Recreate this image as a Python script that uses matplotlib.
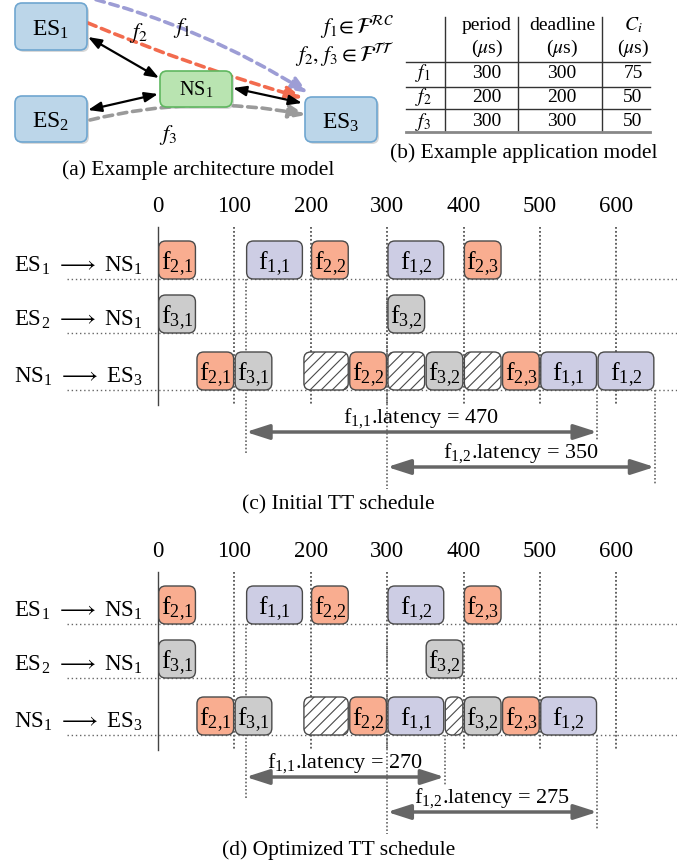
import matplotlib.pyplot as plt
from matplotlib.patches import FancyBboxPatch, FancyArrowPatch

plt.rcParams['font.family'] = ['Liberation Serif', 'DejaVu Serif']
plt.rcParams['mathtext.fontset'] = 'stix'
plt.rcParams['hatch.linewidth'] = 0.8

# (b) application model
flow_names = [r'$f_1$', r'$f_2$', r'$f_3$']
period = [300, 200, 300]
deadline = [300, 200, 300]
wcet = [75, 50, 50]

# (c)/(d) schedules, times in microseconds
ticks = [0, 100, 200, 300, 400, 500, 600]
links = [r'ES$_{\mathregular{1}}$ $\longrightarrow$ NS$_{\mathregular{1}}$',
         r'ES$_{\mathregular{2}}$ $\longrightarrow$ NS$_{\mathregular{1}}$',
         r'NS$_{\mathregular{1}}$ $\longrightarrow$ ES$_{\mathregular{3}}$']

# initial schedule ('' = blocked slot)
init_link = [0, 0, 0, 0, 0, 1, 1, 2, 2, 2, 2, 2, 2, 2, 2, 2, 2]
init_frame = ['2,1', '1,1', '2,2', '1,2', '2,3', '3,1', '3,2',
              '2,1', '3,1', '', '2,2', '', '3,2', '', '2,3', '1,1', '1,2']
init_start = [0, 115, 200, 300, 400, 0, 300, 50, 100, 190, 250, 300, 350, 400, 450, 500, 575]
init_len = [50, 75, 50, 75, 50, 50, 50, 50, 50, 60, 50, 50, 50, 50, 50, 75, 75]
init_lat_frame = ['1,1', '1,2']
init_lat_from = [115, 300]
init_lat_to = [575, 650]
init_lat = [470, 350]

# optimized schedule
opt_link = [0, 0, 0, 0, 0, 1, 1, 2, 2, 2, 2, 2, 2, 2, 2, 2]
opt_frame = ['2,1', '1,1', '2,2', '1,2', '2,3', '3,1', '3,2',
             '2,1', '3,1', '', '2,2', '1,1', '', '3,2', '2,3', '1,2']
opt_start = [0, 115, 200, 300, 400, 0, 350, 50, 100, 190, 250, 300, 375, 400, 450, 500]
opt_len = [50, 75, 50, 75, 50, 50, 50, 50, 50, 60, 50, 75, 25, 50, 50, 75]
opt_lat_frame = ['1,1', '1,2']
opt_lat_from = [115, 300]
opt_lat_to = [375, 575]
opt_lat = [270, 275]

flow_color = {'1': '#cdcde4', '2': '#f9ad90', '3': '#cccccc'}

W, H = 677, 861
fig = plt.figure(figsize=(W / 100, H / 100), dpi=100)

# ---- (a) architecture + (b) table, pixel coordinates
ax0 = fig.add_axes([0, 0, 1, 1])
ax0.set_xlim(0, W)
ax0.set_ylim(H, 0)
ax0.axis('off')


def node(x, y, w, h, label, fc, ec, size):
    ax0.add_patch(FancyBboxPatch((x + 2, y + 2), w, h, boxstyle='round,pad=0,rounding_size=7',
                                 fc='#d8d8d8', ec='none', zorder=2))
    ax0.add_patch(FancyBboxPatch((x, y), w, h, boxstyle='round,pad=0,rounding_size=7',
                                 fc=fc, ec=ec, lw=1.2, zorder=3))
    ax0.text(x + w / 2, y + h / 2 + (9 if size > 15 else 6), label, ha='center', va='baseline',
             fontsize=size, zorder=4)


node(15, 3, 72, 47, r'ES$_{\mathregular{1}}$', '#bcd6e9', '#6fa6d0', 17)
node(15, 96, 72, 46, r'ES$_{\mathregular{2}}$', '#bcd6e9', '#6fa6d0', 17)
node(305, 97, 72, 45, r'ES$_{\mathregular{3}}$', '#bcd6e9', '#6fa6d0', 17)
node(160, 71, 72, 36, r'NS$_{\mathregular{1}}$', '#b9e4b1', '#5fb760', 14.5)

# flow paths
for p0, p1, rad, col in [((82, -4), (308, 93), -0.08, '#9d9dd5'),
                         ((88, 23), (303, 98), 0.03, '#f26b4e'),
                         ((90, 120), (306, 115), -0.11, '#9a9a9a')]:
    ax0.add_patch(FancyArrowPatch(p0, p1, connectionstyle=f'arc3,rad={rad}',
                                  arrowstyle='-|>,head_length=10,head_width=4',
                                  color=col, lw=2.6, linestyle=(0, (2.4, 1.6)),
                                  shrinkA=0, shrinkB=0, zorder=2))

# physical links
for p0, p1 in [((88, 37), (159, 78)), ((88, 110), (158, 94)), ((233, 88), (302, 103))]:
    ax0.add_patch(FancyArrowPatch(p0, p1, arrowstyle='<|-|>,head_length=8,head_width=3',
                                  color='black', lw=1.6, shrinkA=0, shrinkB=0, zorder=5))

ax0.text(182, 28, r'$f_1$', fontsize=16, ha='center', va='center')
ax0.text(138, 33, r'$f_2$', fontsize=16, ha='center', va='center')
ax0.text(168, 135, r'$f_3$', fontsize=16, ha='center', va='center')
ax0.text(394, 27, r'$f_1\!\in\mathcal{F}^{\mathcal{RC}}$', fontsize=15.5, ha='right', va='center')
ax0.text(394, 55, r'$f_2,\,f_3\in\mathcal{F}^{\mathcal{TT}}$', fontsize=15.5, ha='right', va='center')
ax0.text(198, 170, '(a) Example architecture model', fontsize=15.5, ha='center', va='center')

# table (b)
col_x = [423, 487, 562, 633]
row_y = [73, 97, 122]
for x in [445, 518, 602]:
    ax0.plot([x, x], [17, 132], color='#333333', lw=1)
for y in [62, 87, 109]:
    ax0.plot([406, 650], [y, y], color='#333333', lw=1)
ax0.plot([406, 650], [132, 132], color='#888888', lw=2)
for x, head in zip(col_x[1:], ['period', 'deadline', r'$C_i$']):
    ax0.text(x, 25, head, fontsize=14, ha='center', va='center')
    ax0.text(x, 48, r'($\mu$s)', fontsize=14, ha='center', va='center')
for i, y in enumerate(row_y):
    ax0.text(col_x[0], y, flow_names[i], fontsize=14, ha='center', va='center')
    ax0.text(col_x[1], y, str(period[i]), fontsize=14, ha='center', va='center')
    ax0.text(col_x[2], y, str(deadline[i]), fontsize=14, ha='center', va='center')
    ax0.text(col_x[3], y, str(wcet[i]), fontsize=14, ha='center', va='center')
ax0.text(524, 153, '(b) Example application model', fontsize=15.5, ha='center', va='center')

# ---- schedules: x in microseconds, y in pixels
x0_px, px_per_us = 158, 0.764
xlim = (-x0_px / px_per_us, (W - x0_px) / px_per_us)


def sub(f):
    return f.replace(',', '{,}')


def draw_schedule(y0, link, frame, start, length, lat_frame, lat_from, lat_to, lat, caption):
    ax = fig.add_axes([0, 0, 1, 1])
    ax.set_xlim(*xlim)
    ax.set_ylim(H, 0)
    ax.axis('off')
    ax.patch.set_alpha(0)
    tops = [y0, y0 + 54, y0 + 111]
    bh = 38
    bottom = y0 + 164

    for t in ticks:
        ax.text(t, y0 - 29, str(t), fontsize=16.5, ha='center', va='baseline')
        if t > 0:
            ax.plot([t, t], [y0 - 14, bottom], color='#555555', lw=1.3, linestyle=(0, (1, 1.2)), zorder=1)
    ax.plot([0, 0], [y0 - 14, bottom], color='#444444', lw=1, zorder=1)

    for r, top in enumerate(tops):
        ax.plot([xlim[0] + 88, xlim[1]], [top + bh, top + bh], color='#666666', lw=1,
                linestyle=(0, (1, 2)), zorder=1)
        ax.text(-19.5, top + bh - 8, links[r], fontsize=16.5, ha='right', va='baseline')

    for r, f, s, l in zip(link, frame, start, length):
        top = tops[r]
        if f:
            patch = FancyBboxPatch((s + 1, top), l - 2, bh, boxstyle='round,pad=0,rounding_size=9',
                                   mutation_aspect=px_per_us, fc=flow_color[f[0]], ec='#4a4a4a',
                                   lw=1, zorder=3)
            ax.text(s + l / 2, top + bh - 10, r'f$_{\mathregular{%s}}$' % sub(f), fontsize=18.5,
                    ha='center', va='baseline', zorder=4)
        else:
            patch = FancyBboxPatch((s + 1, top), l - 2, bh, boxstyle='round,pad=0,rounding_size=9',
                                   mutation_aspect=px_per_us, fc='white', ec='#4a4a4a',
                                   hatch='///', lw=1, zorder=3)
        ax.add_patch(patch)

    arrow_y = [y0 + 191, y0 + 226]
    for i in range(len(lat)):
        ay = arrow_y[i]
        src_bottom = tops[0] + bh
        ax.plot([lat_from[i]] * 2, [src_bottom, ay + 22], color='#666666', lw=1.2,
                linestyle=(0, (1, 1.2)), zorder=1)
        ax.plot([lat_to[i]] * 2, [tops[2] + bh, ay + (8 if i == 0 else 18)], color='#666666', lw=1.2,
                linestyle=(0, (1, 1.2)), zorder=1)
        ax.add_patch(FancyArrowPatch((lat_from[i], ay), (lat_to[i], ay),
                                     arrowstyle='<|-|>,head_length=14,head_width=4.5',
                                     color='#666666', lw=2.5, shrinkA=0, shrinkB=0, zorder=4))
        ax.text((lat_from[i] + lat_to[i]) / 2, ay - 9,
                r'f$_{\mathregular{%s}}$.latency = %d' % (sub(lat_frame[i]), lat[i]),
                fontsize=16, ha='center', va='baseline', zorder=5)

    ax.text((W / 2 - x0_px) / px_per_us, y0 + 264, caption, fontsize=15.5, ha='center', va='center')


draw_schedule(241, init_link, init_frame, init_start, init_len,
              init_lat_frame, init_lat_from, init_lat_to, init_lat, '(c) Initial TT schedule')
draw_schedule(586, opt_link, opt_frame, opt_start, opt_len,
              opt_lat_frame, opt_lat_from, opt_lat_to, opt_lat, '(d) Optimized TT schedule')

fig.savefig('out.png', dpi=100)
